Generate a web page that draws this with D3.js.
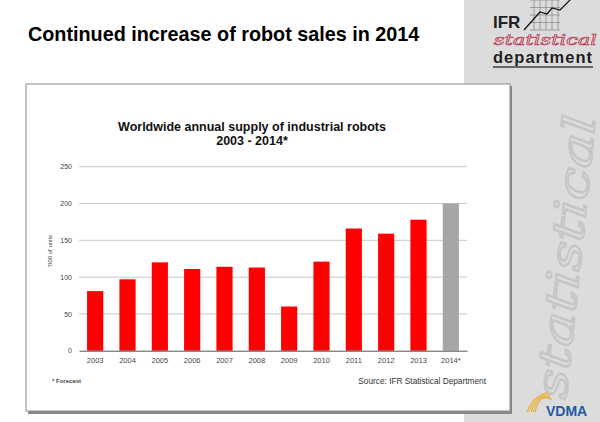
<!DOCTYPE html>
<html><head><meta charset="utf-8">
<script src="https://cdn.jsdelivr.net/npm/d3@7"></script>
<style>html,body{margin:0;padding:0;background:#fff;}svg{display:block;font-family:"Liberation Sans",Arial,sans-serif;}</style>
</head><body>
<script>
const years = ["2003","2004","2005","2006","2007","2008","2009","2010","2011","2012","2013","2014*"];
const supply = [81, 97, 120, 111, 114, 113, 60, 121, 166, 159, 178, 200];
const forecast = [false,false,false,false,false,false,false,false,false,false,false,true];
const yTicks = [0, 50, 100, 150, 200, 250];

const W = 600, H = 422;
const svg = d3.select("body").append("svg").attr("width", W).attr("height", H);

// right gray panel
svg.append("rect").attr("x", 464).attr("y", 0).attr("width", 136).attr("height", H).attr("fill", "#dcdcdc");
// watermark
svg.append("text").attr("transform", "translate(566,400) rotate(-84)")
  .attr("font-family", "'DejaVu Serif',serif").attr("font-style", "italic")
  .attr("font-size", 44).attr("fill", "none").attr("stroke", "#c6c6c6").attr("stroke-width", 2)
  .attr("textLength", 285).attr("lengthAdjust", "spacingAndGlyphs")
  .text("statistical");

// IFR logo
const lg = svg.append("g");
const gx = d3.scaleLinear().domain([0, 4]).range([534, 558]);
const gy = d3.scaleLinear().domain([0, 4]).range([0, 30]);
d3.range(5).forEach(i => {
  lg.append("line").attr("x1", gx(i)).attr("x2", gx(i)).attr("y1", 0).attr("y2", 30).attr("stroke", "#777").attr("stroke-width", 0.6);
  lg.append("line").attr("x1", 530).attr("x2", 560).attr("y1", gy(i)).attr("y2", gy(i)).attr("stroke", "#777").attr("stroke-width", 0.6);
});
lg.append("path").attr("d", "M524,30 L540,12 L547,14 L552,8 L560,10 L572,-2")
  .attr("fill", "none").attr("stroke", "#111").attr("stroke-width", 1.2);
lg.append("text").attr("x", 493).attr("y", 28).attr("font-weight", "bold").attr("font-size", 17).attr("fill", "#222").text("IFR");
lg.append("text").attr("x", 494).attr("y", 45).attr("font-family", "'DejaVu Serif',serif").attr("font-style", "italic")
  .attr("font-size", 14).attr("fill", "#f4e0e4").attr("stroke", "#b5283f").attr("stroke-width", 0.6)
  .attr("textLength", 103).attr("lengthAdjust", "spacingAndGlyphs").text("statistical");
lg.append("text").attr("x", 493).attr("y", 63).attr("font-weight", "bold").attr("font-size", 16.5).attr("fill", "#222")
  .attr("textLength", 99).text("department");
lg.append("rect").attr("x", 493).attr("y", 66).attr("width", 100).attr("height", 2).attr("fill", "#666");

// VDMA logo
const vg = svg.append("g");
[0, 1, 2, 3, 4].forEach(i => {
  vg.append("path").attr("d", `M${527 + i * 2},${412} Q${532 + i * 2},${396 - i} ${548 + i},${392 + i * 2}`)
    .attr("fill", "none").attr("stroke", i % 2 ? "#f0b400" : "#e6a020").attr("stroke-width", 0.9);
});
vg.append("text").attr("x", 546).attr("y", 416).attr("font-weight", "bold").attr("font-size", 14).attr("fill", "#1f5aa8").text("VDMA");

// slide title
svg.append("text").attr("x", 28).attr("y", 41).attr("font-weight", "bold").attr("font-size", 19.8).attr("fill", "#000")
  .text("Continued increase of robot sales in 2014");

// chart box with shadow
svg.append("rect").attr("x", 28).attr("y", 86).attr("width", 484).attr("height", 328).attr("fill", "#888");
svg.append("rect").attr("x", 26).attr("y", 84).attr("width", 484).attr("height", 327).attr("fill", "#fff").attr("stroke", "#8a8a8a").attr("stroke-width", 1);

// chart title
svg.append("text").attr("x", 252).attr("y", 131).attr("text-anchor", "middle").attr("font-weight", "bold").attr("font-size", 12.5).attr("fill", "#111")
  .text("Worldwide annual supply of industrial robots");
svg.append("text").attr("x", 252).attr("y", 145).attr("text-anchor", "middle").attr("font-weight", "bold").attr("font-size", 12.5).attr("fill", "#111")
  .text("2003 - 2014*");

const x = d3.scaleBand().domain(years).range([79, 467]).paddingInner(0.5).paddingOuter(0.25);
const y = d3.scaleLinear().domain([0, 250]).range([350.7, 166.7]);

// grid
svg.append("g").selectAll("line").data(yTicks.filter(d => d > 0)).join("line")
  .attr("x1", 79).attr("x2", 467).attr("y1", d => y(d)).attr("y2", d => y(d))
  .attr("stroke", "#c8c8c8").attr("stroke-width", 1);

// bars
svg.append("g").selectAll("rect").data(years).join("rect")
  .attr("x", d => x(d)).attr("width", x.bandwidth())
  .attr("y", (d, i) => y(supply[i])).attr("height", (d, i) => y(0) - y(supply[i]))
  .attr("fill", (d, i) => forecast[i] ? "#a6a6a6" : "#ff0000");

// y axis
const ya = svg.append("g").attr("transform", "translate(79,0)")
  .call(d3.axisLeft(y).tickValues(yTicks).tickSize(0).tickPadding(7));
ya.select(".domain").remove();
ya.selectAll("text").attr("font-size", 7).attr("fill", "#444").attr("font-family", "'Liberation Sans',Arial,sans-serif");

// x axis
const xa = svg.append("g").attr("transform", `translate(0,${y(0)})`)
  .call(d3.axisBottom(x).tickSize(0).tickPadding(7));
xa.select(".domain").attr("stroke", "#555").attr("stroke-width", 1);
xa.selectAll("text").attr("font-size", 7.5).attr("fill", "#444").attr("font-family", "'Liberation Sans',Arial,sans-serif");

// y label
svg.append("text").attr("transform", "translate(52,251) rotate(-90)").attr("text-anchor", "middle")
  .attr("font-size", 6).attr("fill", "#444").text("'000 of units");

// footnotes
svg.append("text").attr("x", 52).attr("y", 383).attr("font-size", 6).attr("font-weight", "bold").attr("fill", "#444").text("* Forecast");
svg.append("text").attr("x", 486).attr("y", 384).attr("text-anchor", "end").attr("font-size", 8.3).attr("fill", "#333").text("Source: IFR Statistical Department");
</script>
</body></html>
